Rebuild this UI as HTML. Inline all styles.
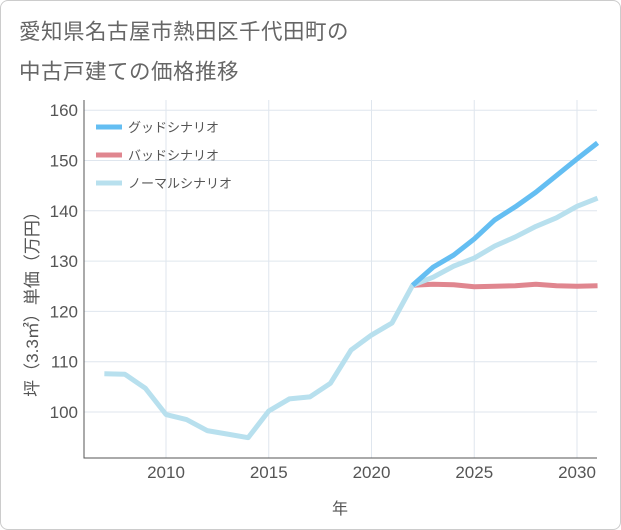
<!DOCTYPE html>
<html><head><meta charset="utf-8"><style>
body{margin:0;background:#fff;font-family:"Liberation Sans","Noto Sans CJK JP",sans-serif;}
#wrap{position:relative;width:619px;height:528px;border:1px solid #ccc;border-radius:8px;overflow:hidden;background:#fff}
.title{position:absolute;left:18px;font-size:21.5px;color:#666;letter-spacing:0.5px}
</style></head><body>
<div id="wrap">
<div class="title" style="top:14px">愛知県名古屋市熱田区千代田町の</div>
<div class="title" style="top:54px">中古戸建ての価格推移</div>
<svg id="chart" width="621" height="530" style="position:absolute;left:-1px;top:-1px"></svg>
</div>
<script>
const years=[2007,2008,2009,2010,2011,2012,2013,2014,2015,2016,2017,2018,2019,2020,2021,2022,2023,2024,2025,2026,2027,2028,2029,2030,2031];
const normalVals=[107.6,107.5,104.7,99.5,98.5,96.3,95.6,94.9,100.2,102.6,103,105.7,112.3,115.3,117.7,125.2,126.8,129,130.6,133,134.8,136.9,138.6,140.9,142.5];
const futureYears=[2022,2023,2024,2025,2026,2027,2028,2029,2030,2031];
const goodVals=[125.2,128.8,131.2,134.4,138.2,140.8,143.7,147,150.3,153.5];
const badVals=[125.2,125.4,125.3,124.9,125,125.1,125.4,125.1,125,125.1];
const xTicks=[2010,2015,2020,2025,2030];
const yTicks=[100,110,120,130,140,150,160];
const NS="http://www.w3.org/2000/svg",svg=document.getElementById('chart');
const L=84,R=597,T=100,B=458;
const x=v=>166+(v-2010)*20.55;
const y=v=>412-(v-100)*5.03;
function mk(t,a){const e=document.createElementNS(NS,t);for(const k in a)e.setAttribute(k,a[k]);svg.appendChild(e);return e;}
yTicks.forEach(v=>{
 const g=mk('line',{x1:L,x2:R,y1:y(v),y2:y(v),stroke:'#dfe6ee','stroke-width':1});
 
 
 const t=mk('text',{x:L-6,y:y(v)+6,'text-anchor':'end','font-size':17,fill:'#555','font-family':'Liberation Sans'});
 t.textContent=v;
 
 
});
xTicks.forEach(v=>{
 const g=mk('line',{x1:x(v),x2:x(v),y1:T,y2:B,stroke:'#dfe6ee','stroke-width':1});
 
 
 const t=mk('text',{x:x(v),y:B+20,'text-anchor':'middle','font-size':17,fill:'#555','font-family':'Liberation Sans'});
 t.textContent=v;
 
 
});
const ax=mk('path',{d:`M${L},${T}V${B}H${R}`,stroke:'#555',fill:'none','stroke-width':1});


function line(xs,vs,c,name){
 const p=mk('polyline',{points:xs.map((yr,i)=>x(yr)+','+y(vs[i])).join(' '),fill:'none',stroke:c,'stroke-width':5,'stroke-linejoin':'round'});
 
 
}
line(futureYears,badVals,'#e0868f','bad-scenario-line');
line(years,normalVals,'#b8e0ee','normal-scenario-line');
line(futureYears,goodVals,'#64bef2','good-scenario-line');
[['グッドシナリオ','#64bef2'],['バッドシナリオ','#e0868f'],['ノーマルシナリオ','#b8e0ee']].forEach((d,i)=>{
 const yy=127+i*28;
 const l=mk('line',{x1:96,x2:122,y1:yy,y2:yy,stroke:d[1],'stroke-width':5});
 
 
 const t=mk('text',{x:128,y:yy+5,'font-size':13,fill:'#555','font-family':'Liberation Sans, Noto Sans CJK JP, sans-serif'});
 t.textContent=d[0];
 
 
});
const xt=mk('text',{x:340,y:514,'text-anchor':'middle','font-size':16,fill:'#555','font-family':'Noto Sans CJK JP, sans-serif'});
xt.textContent='年';


const yt=mk('text',{x:0,y:0,'text-anchor':'middle','font-size':17,fill:'#555','font-family':'Liberation Sans, Noto Sans CJK JP, sans-serif',transform:'translate(38,300) rotate(-90)'});
yt.textContent='坪（3.3㎡）単価（万円）';


</script>
</body></html>
